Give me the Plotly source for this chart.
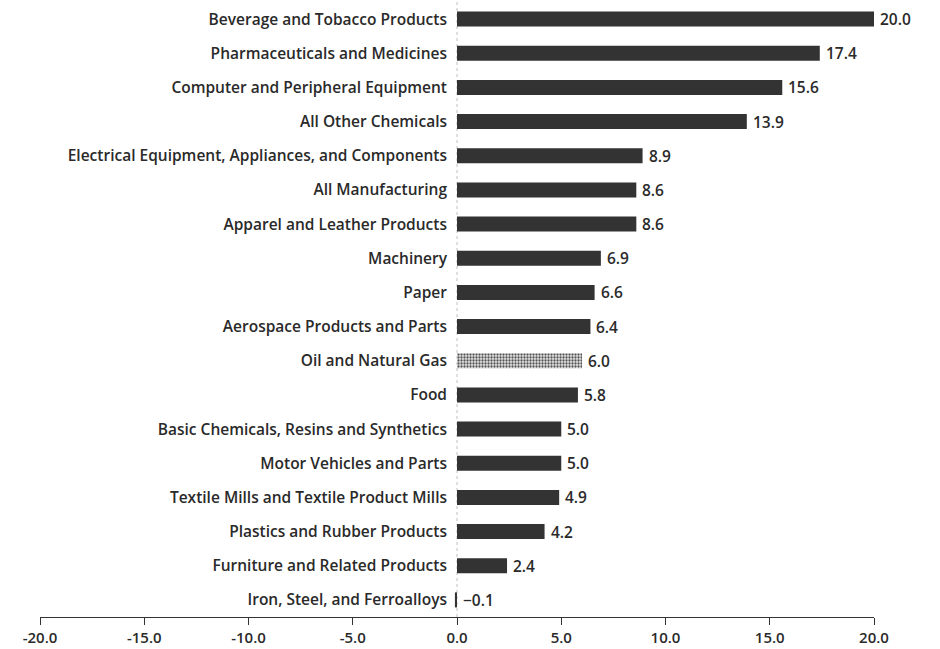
import plotly.graph_objects as go

categories = [
    "Beverage and Tobacco Products",
    "Pharmaceuticals and Medicines",
    "Computer and Peripheral Equipment",
    "All Other Chemicals",
    "Electrical Equipment, Appliances, and Components",
    "All Manufacturing",
    "Apparel and Leather Products",
    "Machinery",
    "Paper",
    "Aerospace Products and Parts",
    "Oil and Natural Gas",
    "Food",
    "Basic Chemicals, Resins and Synthetics",
    "Motor Vehicles and Parts",
    "Textile Mills and Textile Product Mills",
    "Plastics and Rubber Products",
    "Furniture and Related Products",
    "Iron, Steel, and Ferroalloys",
]
values = [20.0, 17.4, 15.6, 13.9, 8.9, 8.6, 8.6, 6.9, 6.6, 6.4,
          6.0, 5.8, 5.0, 5.0, 4.9, 4.2, 2.4, -0.1]

tick_vals = [-20, -15, -10, -5, 0, 5, 10, 15, 20]
tick_text = ["-20.0", "-15.0", "-10.0", "-5.0", "0.0", "5.0", "10.0", "15.0", "20.0"]

FONT = "Open Sans"
INK = "#2a2a2a"
BAR = "#333333"
TXT = dict(family=FONT, size=15.5, color=INK, weight=600)
TICK = dict(family=FONT, size=15, color=INK, weight=600)

# Oil and Natural Gas is printed with a stippled fill
shapes_pat = ["." if c == "Oil and Natural Gas" else "" for c in categories]

fig = go.Figure()
fig.add_trace(go.Bar(
    y=categories,
    x=values,
    orientation="h",
    width=0.44,
    marker=dict(
        color=BAR,
        line=dict(width=0),
        pattern=dict(shape=shapes_pat, fgcolor="#555555", bgcolor="#e6e6e6",
                     size=3, solidity=0.45, fillmode="replace"),
    ),
    hoverinfo="skip",
))

# value labels just past the end of each bar (right side, even for negatives)
labels = [("\u2212" + f"{abs(v):.1f}") if v < 0 else f"{v:.1f}" for v in values]
annotations = [
    dict(x=max(v, 0), y=c, xref="x", yref="y", text=t,
         showarrow=False, xanchor="left", yanchor="middle", xshift=4,
         font=TXT)
    for c, v, t in zip(categories, values, labels)
]

fig.update_layout(
    width=940, height=649,
    margin=dict(l=40, r=66, t=2, b=32, autoexpand=False),
    paper_bgcolor="white",
    plot_bgcolor="white",
    showlegend=False,
    font=TXT,
    annotations=annotations,
    xaxis=dict(
        range=[-20, 20],
        tickvals=tick_vals,
        ticktext=tick_text,
        automargin=False,
        showgrid=False,
        zeroline=False,
        showline=True,
        linecolor="#333333",
        linewidth=1,
        ticks="outside",
        ticklen=7,
        tickcolor="#333333",
        ticklabelstandoff=0,
        tickfont=TICK,
    ),
    yaxis=dict(
        categoryorder="array",
        categoryarray=categories[::-1],
        range=[-0.5, 17.5],
        anchor="free",
        position=0.5,
        automargin=False,
        showgrid=False,
        zeroline=False,
        showline=False,
        ticks="",
        ticklabelstandoff=10,
        tickfont=TXT,
    ),
    shapes=[dict(
        type="line", xref="x", yref="paper",
        x0=0, x1=0, y0=0, y1=1,
        line=dict(color="#c0c0c0", width=1, dash="dot"),
        layer="below",
    )],
)

fig.write_html("out.html")
